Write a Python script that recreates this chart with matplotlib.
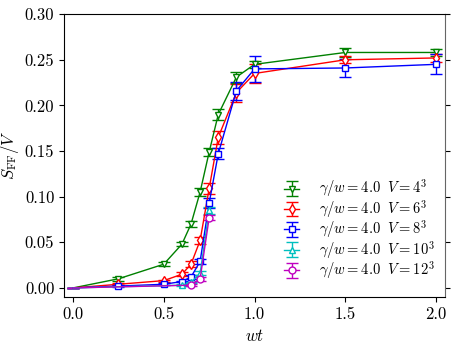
import matplotlib
matplotlib.use('Agg')
import matplotlib.pyplot as plt

plt.rcParams['font.family'] = 'serif'
plt.rcParams['font.serif'] = ['cmr10']
plt.rcParams['mathtext.fontset'] = 'cm'
plt.rcParams['axes.formatter.use_mathtext'] = True

# V = 4^3
wt_4 = [0.0, 0.25, 0.5, 0.6, 0.65, 0.7, 0.75, 0.8, 0.9, 1.0, 1.5, 2.0]
s_4 = [0.0, 0.010, 0.026, 0.048, 0.070, 0.105, 0.149, 0.190, 0.231, 0.245, 0.258, 0.258]
e_4 = [0.0, 0.002, 0.002, 0.002, 0.003, 0.004, 0.004, 0.006, 0.006, 0.004, 0.005, 0.004]

# V = 6^3
wt_6 = [0.0, 0.25, 0.5, 0.6, 0.65, 0.7, 0.75, 0.8, 0.9, 1.0, 1.5, 2.0]
s_6 = [0.0, 0.004, 0.008, 0.015, 0.026, 0.052, 0.109, 0.165, 0.214, 0.235, 0.250, 0.252]
e_6 = [0.0, 0.001, 0.001, 0.002, 0.003, 0.004, 0.006, 0.007, 0.010, 0.010, 0.004, 0.004]

# V = 8^3
wt_8 = [0.0, 0.25, 0.5, 0.6, 0.65, 0.7, 0.75, 0.8, 0.9, 1.0, 1.5, 2.0]
s_8 = [0.0, 0.002, 0.004, 0.007, 0.012, 0.029, 0.093, 0.147, 0.216, 0.240, 0.241, 0.245]
e_8 = [0.0, 0.001, 0.001, 0.001, 0.002, 0.003, 0.005, 0.006, 0.010, 0.0145, 0.010, 0.011]

# V = 10^3
wt_10 = [0.0, 0.6, 0.65, 0.7, 0.75]
s_10 = [0.0, 0.003, 0.006, 0.016, 0.085]
e_10 = [0.0, 0.001, 0.001, 0.002, 0.004]

# V = 12^3
wt_12 = [0.0, 0.65, 0.7, 0.75]
s_12 = [0.0, 0.003, 0.010, 0.077]
e_12 = [0.0, 0.001, 0.002, 0.003]

series = [
    (wt_4, s_4, e_4, 'g', 'v', r'$\gamma/w = 4.0\ \ V = 4^3$'),
    (wt_6, s_6, e_6, 'r', 'd', r'$\gamma/w = 4.0\ \ V = 6^3$'),
    (wt_8, s_8, e_8, 'b', 's', r'$\gamma/w = 4.0\ \ V = 8^3$'),
    (wt_10, s_10, e_10, 'c', '^', r'$\gamma/w = 4.0\ \ V = 10^3$'),
    (wt_12, s_12, e_12, 'm', 'o', r'$\gamma/w = 4.0\ \ V = 12^3$'),
]

fig = plt.figure(figsize=(4.57, 3.45), dpi=100)
ax = fig.add_axes([0.140, 0.139, 0.834, 0.820])

for x, y, e, c, m, lab in series:
    # the origin point has no marker in the original
    ax.errorbar(x, y, yerr=e, color=c, marker=m, markerfacecolor='w',
                markeredgecolor=c, markersize=5, lw=1, capsize=4,
                capthick=1, elinewidth=1, label=lab,
                markevery=list(range(1, len(x))))

ax.set_xlim(-0.05, 2.05)
ax.set_ylim(-0.01, 0.30)
ax.set_xticks([0.0, 0.5, 1.0, 1.5, 2.0])
ax.set_yticks([0.0, 0.05, 0.10, 0.15, 0.20, 0.25, 0.30])
ax.set_xticklabels(['0.0', '0.5', '1.0', '1.5', '2.0'])
ax.set_yticklabels(['0.00', '0.05', '0.10', '0.15', '0.20', '0.25', '0.30'])
ax.tick_params(labelsize=12, right=True)
ax.spines['right'].set_color('0.4')

ax.set_xlabel(r'$wt$', fontsize=12)
ax.set_ylabel(r'$S_{\rm FF}/V$', fontsize=12)
ax.yaxis.set_label_coords(-0.112, 0.5)

ax.legend(loc='lower right', frameon=False, fontsize=10.5,
          handlelength=1.0, handletextpad=1.4, borderaxespad=0.3,
          labelspacing=-0.1, handleheight=0.5,
          bbox_to_anchor=(1.0, 0.02))

fig.savefig('out.png', dpi=100)
